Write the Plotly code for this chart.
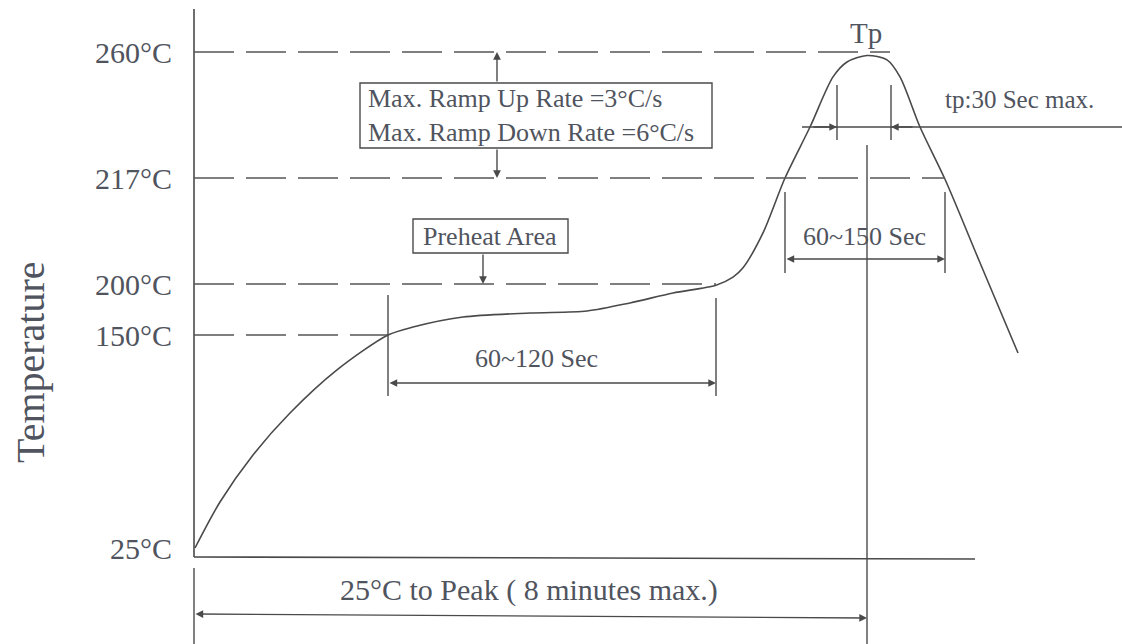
import numpy as np
import plotly.graph_objects as go

# ---------------- data ----------------
level_temps = [25, 150, 200, 217, 260]
level_labels = ["25°C", "150°C", "200°C", "217°C", "260°C"]

# schematic reflow profile (schematic time units, °C)
profile_time = [195, 220, 253, 290, 337, 388, 413, 463, 530, 587, 630, 673, 716,
                733, 743, 763, 785, 810, 833, 847, 867, 887, 900, 920, 945, 980, 1018]
profile_temp = [25, 52.0, 79.6, 104.2, 129.5, 150, 157.8, 167.6, 171.6, 173.5, 181.4,
                191.2, 198.8, 201.1, 202.6, 208.2, 217, 234.4, 251.5, 256.6, 258.8,
                257.3, 251.5, 234.4, 216.8, 203.4, 139.4]

ramp_text = ["Max. Ramp Up Rate =3°C/s", "Max. Ramp Down Rate =6°C/s"]
preheat_text = "Preheat Area"
preheat_span = "60~120 Sec"
liquidus_span = "60~150 Sec"
peak_label = "Tp"
peak_time_text = "tp:30 Sec max."
total_text = "25°C to Peak ( 8 minutes max.)"
y_title = "Temperature"

# ---------------- schematic (non-linear) temperature scale ----------------
level_pos = [548, 335, 284, 178, 52]   # vertical placement of each labelled level


def ty(t):
    return float(np.interp(t, level_temps, level_pos))


LINE = "#4a4a4a"
TXT = "#50545e"
FONT = "Liberation Serif, Times New Roman, serif"

fig = go.Figure()
fig.add_trace(go.Scatter(
    x=profile_time, y=[ty(t) for t in profile_temp], mode="lines",
    line=dict(color=LINE, width=1.6, shape="spline", smoothing=0.8),
    hoverinfo="skip", showlegend=False))

shapes = []


def seg(x0, y0, x1, y1, dash=None, w=1.4, color=LINE):
    shapes.append(dict(type="line", xref="x", yref="y", x0=x0, y0=y0, x1=x1, y1=y1,
                       line=dict(color=color, width=w, dash=dash)))


# axes
seg(194, 9, 194, 557, w=1.6)
seg(194, 557, 975, 559, w=1.6)

# dashed temperature levels
level_ends = {260: 890, 217: 945, 200: 716, 150: 388}
for t, xe in level_ends.items():
    seg(194, ty(t), xe, ty(t), dash="40px,12px", w=1.4, color="#555")

# ramp box
shapes.append(dict(type="rect", xref="x", yref="y", x0=360, y0=83, x1=712, y1=148,
                   line=dict(color=LINE, width=1.4)))
# preheat box
shapes.append(dict(type="rect", xref="x", yref="y", x0=413, y0=219, x1=568, y1=253,
                   line=dict(color=LINE, width=1.4)))

# preheat span markers
seg(388, 295, 388, 396)
seg(716, 298, 716, 396)
# liquidus span markers
seg(785, 192, 785, 273)
seg(945, 192, 945, 273)
# tp markers
seg(837, 85, 837, 140)
seg(891, 85, 891, 140)
seg(802, 127, 1122, 127)
# peak vertical
seg(867, 145, 867, 644)
# bottom left marker
seg(194, 568, 194, 644)

fig.update_layout(shapes=shapes)

ann = []


def arrow(x, y, ax, ay, both=False):
    d = dict(x=x, y=y, ax=ax, ay=ay, xref="x", yref="y", axref="x", ayref="y",
             text="", showarrow=True, arrowhead=2, arrowsize=1.1, arrowwidth=1.4,
             arrowcolor=LINE, standoff=0, startstandoff=0)
    if both:
        d.update(arrowside="end+start", startarrowhead=2, startarrowsize=1.1)
    ann.append(d)


def text(x, y, s, size, xanchor="center", align="center"):
    ann.append(dict(x=x, y=y, xref="x", yref="y", text=s, showarrow=False,
                    xanchor=xanchor, yanchor="middle", align=align,
                    font=dict(family=FONT, size=size, color=TXT)))


# ramp arrows
arrow(497, ty(260), 497, 83)
arrow(497, ty(217), 497, 148)
text(366, 115, "<br>".join(ramp_text), 26, xanchor="left", align="left")
# preheat
arrow(483, ty(200), 483, 253)
text(490, 236, preheat_text, 26)
arrow(716, 383, 388, 383, both=True)
text(536, 358, preheat_span, 26)
# liquidus
arrow(945, 259, 785, 259, both=True)
text(864, 236, liquidus_span, 26)
# peak
text(866, 33, peak_label, 29)
arrow(837, 127, 812, 127)
arrow(891, 127, 914, 127)
text(943, 99, peak_time_text, 25, xanchor="left")
# total
arrow(867, 618, 194, 614, both=True)
text(529, 590, total_text, 30)
# y title
ann.append(dict(x=30 / 1122, y=1 - 362 / 644, xref="paper", yref="paper", text=y_title,
                textangle=-90, showarrow=False, xanchor="center", yanchor="middle",
                font=dict(family=FONT, size=40, color=TXT)))

fig.update_layout(
    annotations=ann,
    width=1122, height=644,
    margin=dict(l=0, r=0, t=0, b=0),
    paper_bgcolor="white", plot_bgcolor="white",
    xaxis=dict(range=[0, 1122], domain=[0, 1], visible=False, fixedrange=True),
    yaxis=dict(range=[644, 0], domain=[0, 1], anchor="free", position=194 / 1122,
               tickvals=[ty(t) for t in level_temps], ticktext=level_labels,
               ticks="", showline=False, showgrid=False, zeroline=False,
               ticklabelstandoff=22,
               tickfont=dict(family=FONT, size=30, color=TXT)),
    showlegend=False,
)

fig.write_html("out.html")
